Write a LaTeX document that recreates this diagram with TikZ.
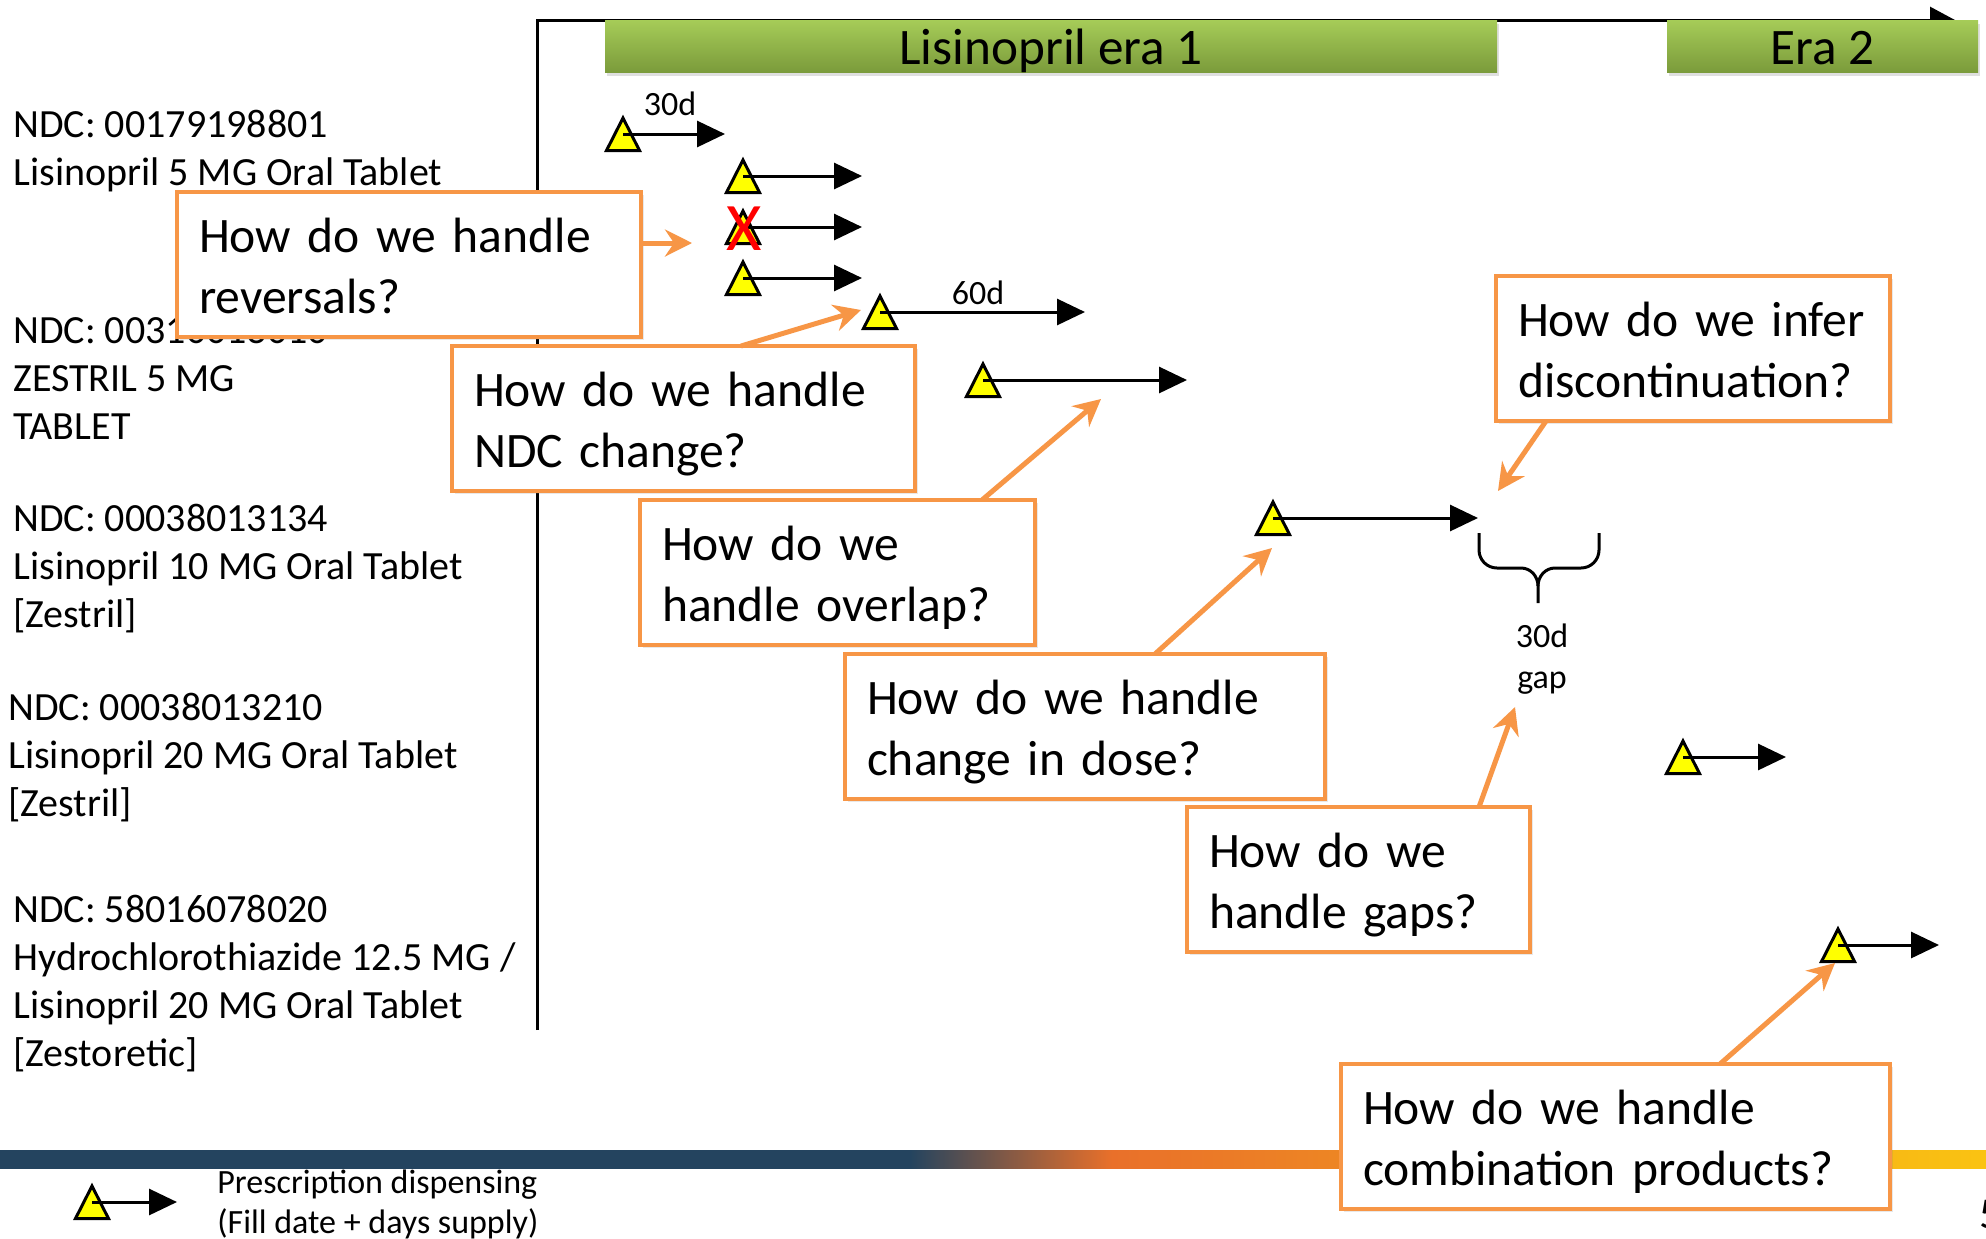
\documentclass[tikz,border=0pt]{standalone}
\usepackage{fontspec}
\setmainfont{Carlito}
\usetikzlibrary{arrows.meta,calc,shadows}
\hyphenpenalty=10000

\definecolor{qorange}{HTML}{F79646}
\definecolor{eratop}{HTML}{A6CC58}
\definecolor{erabot}{HTML}{7B9B3B}
\definecolor{navy}{HTML}{24445F}
\definecolor{stripeorange}{HTML}{E9702A}
\definecolor{stripeyellow}{HTML}{FAC312}
\definecolor{pillyellow}{HTML}{FFFF00}

% horizontal stripe: the path spans 25bp..75bp of the shading
\pgfdeclarehorizontalshading{stripeshade}{100bp}{color(0bp)=(navy); color(47.9bp)=(navy); color(53bp)=(stripeorange); color(75bp)=(stripeyellow); color(100bp)=(stripeyellow)}

\newcommand\qfont{\fontsize{24.8pt}{30.5pt}\selectfont}
\newcommand\ndcfont{\fontsize{20pt}{24pt}\selectfont}
\newcommand\erafont{\fontsize{25.6pt}{30pt}\selectfont}
\newcommand\tagfont{\fontsize{17pt}{20.5pt}\selectfont}
\newcommand\legendfont{\fontsize{17pt}{20pt}\selectfont}
% two unbreakable lines of a question box, set a little low in the box
\newcommand\qlines[2]{\rule{0pt}{27.4pt}\mbox{#1}\\\strut\mbox{#2}}

\begin{document}
\begin{tikzpicture}[x=0.5pt,y=-0.5pt,
  qbox/.style={draw=qorange, line width=2.25pt, fill=white, inner xsep=11pt,
    inner ysep=0pt, minimum height=72.5pt, align=left, anchor=north west,
    font=\qfont, outer sep=0pt,
    drop shadow={opacity=0.18, shadow xshift=1.5pt, shadow yshift=-1.5pt}},
  era/.style={top color=eratop, bottom color=erabot, minimum height=26pt,
    anchor=north west, inner sep=0pt, outer sep=0pt, font=\erafont,
    text height=22pt, text depth=3.6pt,
    drop shadow={opacity=0.25, shadow xshift=1pt, shadow yshift=-2pt}},
  ndc/.style={align=left, inner sep=0pt, anchor=north west, font=\ndcfont},
  tag/.style={inner sep=0pt, font=\tagfont, align=center},
  tri/.style={draw=black, fill=pillyellow, line width=1.5pt, line join=miter},
  displine/.style={draw=black, line width=1.5pt, -{Triangle[length=14pt,width=13pt]}},
  axisline/.style={draw=black, line width=1.5pt, -{Triangle[length=12.5pt,width=13pt]}},
  oarrow/.style={draw=qorange, line width=2.5pt, -{Stealth[length=13.5pt,width=13.5pt,inset=4.5pt]}},
  bracepath/.style={draw=black, line width=1.5pt}
]
\useasboundingbox (0,0) rectangle (1986,1238);
\fill[white] (0,0) rectangle (1986,1238);

% footer stripe
\shade[shading=stripeshade] (0,1150) rectangle (1986,1168);

% drug product labels
\node[ndc] (ndc1) at (13,103.4) {\strut NDC: 00179198801\\\strut Lisinopril 5 MG Oral Tablet};
\node[ndc] (ndc2) at (13,309.4) {\strut NDC: 00310013010\\\strut ZESTRIL 5 MG\\\strut TABLET};
\node[ndc] (ndc3) at (13,497.4) {\strut NDC: 00038013134\\\strut Lisinopril 10 MG Oral Tablet\\\strut [Zestril]};
\node[ndc] (ndc4) at (8,686.4) {\strut NDC: 00038013210\\\strut Lisinopril 20 MG Oral Tablet\\\strut [Zestril]};
\node[ndc] (ndc5) at (13,888.4) {\strut NDC: 58016078020\\\strut Hydrochlorothiazide 12.5 MG /\\\strut Lisinopril 20 MG Oral Tablet\\\strut [Zestoretic]};

% time axis
\coordinate (axbot) at (537,1030);
\coordinate (axcorner) at (537,20);
\coordinate (axend) at (1955,20);
\draw[axisline] (axbot) -- (axcorner) -- (axend);

% eras
\node[era, minimum width=446pt] (era1) at (605,20) {Lisinopril era 1};
\node[era, minimum width=155.5pt] (era2) at (1667,20) {Era 2};

% dispensings: fill date triangle + days-supply arrow
\foreach \n/\x/\y/\e in {t1/623/134/725, t2/743/176/862, t3/743/227/862,
    t4/743/278/862, t5/880/312/1085, t6/983/380/1187, t7/1273/518/1478,
    t8/1683/757/1786, t9/1838/945/1939, tl/92/1202/177}{
  \coordinate (\n) at (\x,\y);
  \coordinate (\n-tip) at (\e,\y);
  \draw[tri] ($(\n)+(0,-16)$) -- ($(\n)+(16.5,16.5)$) -- ($(\n)+(-16.5,16.5)$) -- cycle;
  \draw[displine] (\n) -- (\n-tip);
}

% reversed claim
\node[text=red, inner sep=0pt, font=\fontsize{34pt}{34pt}\selectfont] (xmark) at (744,229) {X};

% days supply labels
\node[tag] (d30) at (670,104) {30d};
\node[tag] (d60) at (978,293) {60d};

% gap brace
\draw[bracepath] (1479,533) -- (1479,550) to[out=-90,in=180] (1497,568) -- (1521,568)
  to[out=0,in=90] (1538,586) -- (1538,603);
\draw[bracepath] (1599,533) -- (1599,550) to[out=-90,in=0] (1581,568) -- (1555,568)
  to[out=180,in=90] (1538,586);
\node[tag, anchor=north] (gap) at (1542,618) {\strut 30d\\\strut gap};

% questions
\node[qbox, text width=210pt] (qA) at (177,192) {\qlines{How do we handle}{reversals?}};
\node[qbox, text width=209.5pt] (qB) at (452,346) {\qlines{How do we handle}{NDC change?}};
\node[qbox, text width=175.5pt] (qC) at (640,500) {\qlines{How do we}{handle overlap?}};
\node[qbox, text width=218pt] (qD) at (845,654) {\qlines{How do we handle}{change in dose?}};
\node[qbox, text width=149.5pt] (qE) at (1187,807) {\qlines{How do we}{handle gaps?}};
\node[qbox, text width=175pt] (qF) at (1496,276) {\qlines{How do we infer}{discontinuation?}};
\node[qbox, text width=252.5pt] (qG) at (1341,1064) {\qlines{How do we handle}{combination products?}};

% pointers from the questions
\coordinate (pA) at (692,243);
\coordinate (pC) at (1101,399);
\coordinate (pE) at (1515,707);
\coordinate (pF) at (1498,491);
\draw[oarrow] ($(qA.north east)+(0,51)$) -- (pA);
\draw[oarrow] ($(qB.north west)+(289,0)$) -- ($(t5)+(-19,-2)$);
\draw[oarrow] ($(qC.north west)+(342,0)$) -- (pC);
\draw[oarrow] ($(qD.north west)+(310,0)$) -- ($(t7)+(-1,30)$);
\draw[oarrow] ($(qE.north west)+(292,0)$) -- (pE);
\draw[oarrow] ($(qF.south west)+(50,0)$) -- (pF);
\draw[oarrow] ($(qG.north west)+(379,0)$) -- ($(t9)+(-3,18)$);

% legend
\node[inner sep=0pt, align=left, anchor=north west, font=\legendfont] (legend) at (217,1165)
  {\strut Prescription dispensing\\\strut (Fill date + days supply)};

% page number
\node[inner sep=0pt, anchor=base west, font=\fontsize{22pt}{26pt}\selectfont] (pageno) at (1979,1228) {5};
\end{tikzpicture}
\end{document}
